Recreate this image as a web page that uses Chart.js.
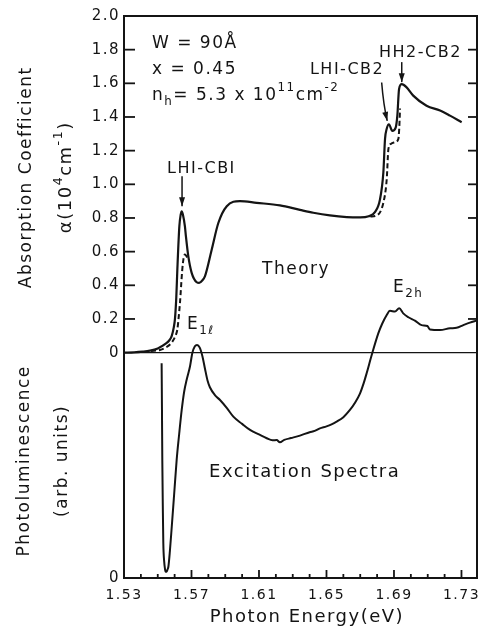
<!DOCTYPE html>
<html lang="en">
<head>
<meta charset="UTF-8">
<title>Absorption and excitation spectra</title>
<script src="https://cdn.jsdelivr.net/npm/chart.js"></script>
<style>
    body { margin: 0; background: #fff; }
    #wrap { width: 482px; height: 638px; }
</style>
</head>
<body>
<div id="wrap"><canvas id="chart" width="482" height="638"></canvas></div>
<script>
// theory, solid line: photon energy (eV) and absorption (10^4 cm^-1)
var theoryE = [1.530, 1.536, 1.541, 1.5454, 1.550, 1.5543, 1.557, 1.5583, 1.5595, 1.5602,
    1.561, 1.5616, 1.5628, 1.5636, 1.5642, 1.5649, 1.5661, 1.5667, 1.5681, 1.5701,
    1.5731, 1.5745, 1.5765, 1.578, 1.582, 1.5859, 1.5909, 1.5987, 1.6086, 1.6224,
    1.6343, 1.6422, 1.652, 1.662, 1.670, 1.675, 1.6787, 1.6817, 1.6837, 1.6847,
    1.6857, 1.687, 1.689, 1.691, 1.692, 1.693, 1.6946, 1.6975, 1.7014, 1.7093,
    1.7173, 1.7232, 1.7301];
var theoryAlpha = [0.000, 0.002, 0.006, 0.012, 0.025, 0.050, 0.075, 0.10, 0.15, 0.20,
    0.33, 0.49, 0.75, 0.82, 0.84, 0.82, 0.75, 0.69, 0.573, 0.474,
    0.418, 0.414, 0.43, 0.454, 0.613, 0.77, 0.87, 0.90, 0.89, 0.875,
    0.848, 0.831, 0.815, 0.805, 0.803, 0.810, 0.835, 0.91, 1.07, 1.27,
    1.33, 1.357, 1.317, 1.337, 1.41, 1.565, 1.595, 1.576, 1.527, 1.467,
    1.438, 1.408, 1.369];

// theory, dashed line (null leaves the gap between its two pieces)
var dashE = [1.546, 1.5513, 1.5555, 1.5583, 1.5605, 1.5616, 1.5625, 1.5632, 1.5645, 1.5653,
    1.5661, 1.5672, 1.5683, 1.62, 1.676, 1.6797, 1.6837, 1.6857, 1.6867, 1.6881,
    1.6906, 1.6926, 1.6931, 1.6936];
var dashAlpha = [0.010, 0.016, 0.035, 0.06, 0.10, 0.137, 0.22, 0.30, 0.49, 0.56,
    0.583, 0.57, 0.55, null, 0.808, 0.815, 0.89, 1.03, 1.21, 1.24,
    1.25, 1.27, 1.33, 1.45];

// photoluminescence excitation spectrum, arb. units (1 sits on the absorption zero line)
var plE = [1.5523, 1.5525, 1.5527, 1.553, 1.5533, 1.5538, 1.5543, 1.5547, 1.5553, 1.5558,
    1.5563, 1.5572, 1.5583, 1.5597, 1.5612, 1.5627, 1.5642, 1.5657, 1.5671, 1.5691,
    1.5705, 1.572, 1.5733, 1.5748, 1.5765, 1.578, 1.5795, 1.5809, 1.584, 1.5869,
    1.591, 1.5948, 1.600, 1.6047, 1.610, 1.6146, 1.618, 1.6205, 1.6224, 1.625,
    1.629, 1.6343, 1.640, 1.643, 1.6461, 1.650, 1.653, 1.656, 1.660, 1.6639,
    1.667, 1.6699, 1.672, 1.6738, 1.6768, 1.6807, 1.683, 1.6857, 1.6876, 1.6906,
    1.6931, 1.6955, 1.6985, 1.7024, 1.7064, 1.7098, 1.7113, 1.7173, 1.7232, 1.7271,
    1.7311, 1.735, 1.739];
var plVal = [0.955, 0.75, 0.524, 0.32, 0.154, 0.075, 0.04, 0.028, 0.028, 0.038,
    0.05, 0.12, 0.228, 0.37, 0.524, 0.64, 0.747, 0.83, 0.88, 0.94,
    1.0, 1.03, 1.036, 1.025, 0.985, 0.93, 0.878, 0.848, 0.812, 0.791,
    0.755, 0.717, 0.685, 0.658, 0.638, 0.621, 0.612, 0.613, 0.603, 0.614,
    0.622, 0.633, 0.648, 0.654, 0.665, 0.674, 0.683, 0.695, 0.715, 0.747,
    0.78, 0.821, 0.865, 0.91, 0.991, 1.087, 1.13, 1.169, 1.188, 1.184,
    1.199, 1.176, 1.159, 1.144, 1.124, 1.12, 1.105, 1.102, 1.110, 1.112,
    1.124, 1.135, 1.144];

var xTickLabels = [1.53, 1.57, 1.61, 1.65, 1.69, 1.73];
var yTickLabels = [0, 0.2, 0.4, 0.6, 0.8, 1.0, 1.2, 1.4, 1.6, 1.8, 2.0];

var ink = '#141414';
var fam = '"DejaVu Sans", sans-serif';

function pts(xs, ys) {
    return xs.map(function (x, i) { return { x: x, y: ys[i] }; });
}

// text with sub/superscripts: parts = [[text, 'sub'|'sup'|undefined], ...]
function drawRich(ctx, parts, x, y, size, align) {
    var w = 0;
    parts.forEach(function (p) {
        ctx.font = (p[1] ? size * 0.7 : size) + 'px ' + fam;
        w += ctx.measureText(p[0]).width;
    });
    var cx = align === 'center' ? x - w / 2 : x;
    ctx.textAlign = 'left';
    ctx.textBaseline = 'middle';
    parts.forEach(function (p) {
        var s = p[1] ? size * 0.7 : size;
        ctx.font = s + 'px ' + fam;
        var dy = p[1] === 'sup' ? -size * 0.42 : (p[1] === 'sub' ? size * 0.4 : 0);
        ctx.fillText(p[0], cx, y + dy);
        cx += ctx.measureText(p[0]).width;
    });
}

// labels placed in data coordinates (energy, absorption), left edge
var notes = [
    { e: 1.5466, v: 1.839, size: 17, parts: [['W = 90Å']] },
    { e: 1.5466, v: 1.679, size: 17, parts: [['x = 0.45']] },
    { e: 1.5466, v: 1.530, size: 17, parts: [['n'], ['h', 'sub'], ['= 5.3 x 10'], ['11', 'sup'], ['cm'], ['-2', 'sup']] },
    { e: 1.5555, v: 1.089, size: 16, parts: [['LHI-CBI']] },
    { e: 1.6402, v: 1.679, size: 16, parts: [['LHI-CB2']] },
    { e: 1.6811, v: 1.780, size: 16, parts: [['HH2-CB2']] },
    { e: 1.6118, v: 0.494, size: 17, parts: [['Theory']] },
    { e: 1.5673, v: 0.167, size: 17, parts: [['E'], ['1ℓ', 'sub']] },
    { e: 1.6894, v: 0.387, size: 17, parts: [['E'], ['2h', 'sub']] },
    { e: 1.5804, v: -0.714, size: 18, parts: [['Excitation Spectra']] }
];

var arrows = [
    { from: [1.5644, 1.048], to: [1.5644, 0.869] },
    { from: [1.6827, 1.605], ctrl: [1.6838, 1.47], to: [1.6860, 1.377] },
    { from: [1.6946, 1.726], to: [1.6946, 1.607] }
];

var spacing = {
    id: 'spacing',
    beforeLayout: function (c) { c.ctx.letterSpacing = '1.5px'; },
    beforeDraw: function (c) { c.ctx.letterSpacing = '1.5px'; }
};

var decor = {
    id: 'decor',
    afterDraw: function (chart) {
        var ctx = chart.ctx, a = chart.chartArea;
        var xs = chart.scales.x, ys = chart.scales.y;
        function line(x1, y1, x2, y2) {
            ctx.beginPath(); ctx.moveTo(x1, y1); ctx.lineTo(x2, y2); ctx.stroke();
        }
        ctx.save();
        ctx.letterSpacing = '1.5px';
        ctx.strokeStyle = ink;
        ctx.fillStyle = ink;

        // frame
        ctx.lineWidth = 2;
        ctx.strokeRect(a.left, a.top, a.right - a.left, a.bottom - a.top);

        // zero line of the absorption axis
        var y0 = ys.getPixelForValue(0);
        ctx.lineWidth = 1.4;
        line(a.left, y0, a.right, y0);

        // inward ticks
        ctx.lineWidth = 1.8;
        yTickLabels.forEach(function (v) {
            if (v <= 0 || v >= 2) return;
            var p = ys.getPixelForValue(v);
            line(a.left, p, a.left + 11, p);
            line(a.right, p, a.right - 9, p);
        });
        for (var k = 0; k <= 20; k++) {
            var p = xs.getPixelForValue(1.53 + k * 0.01);
            line(p, a.bottom, p, a.bottom - (k % 4 === 0 ? 8 : 4));
        }

        // annotations
        notes.forEach(function (n) {
            drawRich(ctx, n.parts, xs.getPixelForValue(n.e), ys.getPixelForValue(n.v), n.size, 'left');
        });

        // arrows
        ctx.lineWidth = 1.5;
        arrows.forEach(function (r) {
            var x1 = xs.getPixelForValue(r.from[0]), y1 = ys.getPixelForValue(r.from[1]);
            var x2 = xs.getPixelForValue(r.to[0]), y2 = ys.getPixelForValue(r.to[1]);
            var cx = x1, cy = y1;
            ctx.beginPath();
            ctx.moveTo(x1, y1);
            if (r.ctrl) {
                cx = xs.getPixelForValue(r.ctrl[0]); cy = ys.getPixelForValue(r.ctrl[1]);
                ctx.quadraticCurveTo(cx, cy, x2, y2);
            } else {
                ctx.lineTo(x2, y2);
            }
            ctx.stroke();
            var ang = Math.atan2(y2 - cy, x2 - cx);
            ctx.beginPath();
            ctx.moveTo(x2, y2);
            ctx.lineTo(x2 - 9 * Math.cos(ang) + 3 * Math.sin(ang), y2 - 9 * Math.sin(ang) - 3 * Math.cos(ang));
            ctx.lineTo(x2 - 9 * Math.cos(ang) - 3 * Math.sin(ang), y2 - 9 * Math.sin(ang) + 3 * Math.cos(ang));
            ctx.closePath();
            ctx.fill();
        });

        // axis titles
        function vtitle(parts, x, v, size) {
            ctx.save();
            ctx.translate(x, ys.getPixelForValue(v));
            ctx.rotate(-Math.PI / 2);
            drawRich(ctx, parts, 0, 0, size, 'center');
            ctx.restore();
        }
        vtitle([['Absorption Coefficient']], 27, 1.042, 17);
        vtitle([['α(10'], ['4', 'sup'], ['cm'], ['-1', 'sup'], [')']], 66, 1.042, 18);
        vtitle([['Photoluminescence']], 25, -0.643, 17);
        vtitle([['(arb. units)']], 63, -0.643, 17);
        drawRich(ctx, [['Photon Energy(eV)']], xs.getPixelForValue(1.6384), 617, 18, 'center');

        ctx.restore();
    }
};

new Chart(document.getElementById('chart'), {
    type: 'line',
    data: {
        datasets: [
            {
                data: pts(theoryE, theoryAlpha), yAxisID: 'y',
                borderColor: ink, borderWidth: 2.2, pointRadius: 0,
                cubicInterpolationMode: 'monotone'
            },
            {
                data: pts(dashE, dashAlpha), yAxisID: 'y',
                borderColor: ink, borderWidth: 2, borderDash: [5, 3], pointRadius: 0,
                cubicInterpolationMode: 'monotone', spanGaps: false
            },
            {
                data: pts(plE, plVal), yAxisID: 'yPL',
                borderColor: ink, borderWidth: 2, pointRadius: 0,
                cubicInterpolationMode: 'monotone'
            }
        ]
    },
    options: {
        responsive: false,
        animation: false,
        devicePixelRatio: 1,
        layout: { padding: { top: 16, right: 5, left: 0, bottom: 0 } },
        plugins: { legend: { display: false }, tooltip: { enabled: false } },
        scales: {
            x: {
                type: 'linear', min: 1.53, max: 1.7392,
                afterBuildTicks: function (s) { s.ticks = xTickLabels.map(function (v) { return { value: v }; }); },
                afterFit: function (s) { s.height = 60; s.paddingLeft = 0; s.paddingRight = 0; },
                grid: { display: false, drawTicks: false },
                border: { display: false },
                ticks: {
                    autoSkip: false, maxRotation: 0, padding: 9, color: ink,
                    font: { family: fam, size: 14 },
                    callback: function (v) { return v.toFixed(2); }
                }
            },
            y: {
                min: -1.339, max: 2.0,
                afterBuildTicks: function (s) {
                    s.ticks = [{ value: -1.339 }].concat(yTickLabels.map(function (v) { return { value: v }; }));
                },
                afterFit: function (s) { s.width = 124; s.paddingTop = 0; s.paddingBottom = 0; },
                grid: { display: false, drawTicks: false },
                border: { display: false },
                ticks: {
                    autoSkip: false, padding: 4, color: ink,
                    font: { family: fam, size: 15 },
                    callback: function (v) { return v <= 0 ? '0' : v.toFixed(1); }
                }
            },
            yPL: { display: false, min: 0, max: 2.498 }
        }
    },
    plugins: [spacing, decor]
});
</script>
</body>
</html>
